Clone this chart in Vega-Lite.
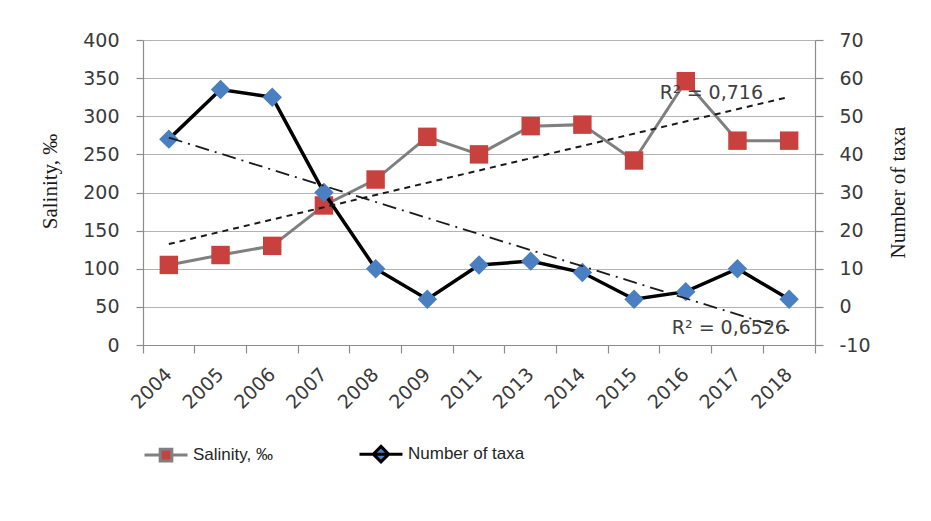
{
  "$schema": "https://vega.github.io/schema/vega-lite/v6.json",
  "width": 672,
  "height": 305,
  "autosize": {"type": "none"},
  "padding": {"left": 143, "top": 40, "right": 116, "bottom": 176},
  "background": "white",
  "config": {
    "view": {"stroke": null},
    "font": "DejaVu Sans",
    "axis": {
      "labelFont": "DejaVu Sans",
      "labelFontSize": 19,
      "labelColor": "#3a3a3a",
      "titleFont": "Liberation Serif",
      "titleFontSize": 21,
      "titleFontWeight": "normal",
      "titleColor": "#1a1a1a",
      "domainColor": "#8c8c8c",
      "domainWidth": 1.2,
      "tickColor": "#8c8c8c",
      "tickWidth": 1.2,
      "gridColor": "#b3b3b3",
      "gridWidth": 1.2
    },
    "legend": {
      "title": null,
      "orient": "bottom",
      "direction": "horizontal",
      "offset": 18,
      "labelFont": "Liberation Sans",
      "labelFontSize": 17,
      "labelColor": "#262626",
      "labelOffset": 4,
      "columnPadding": 80,
      "symbolSize": 1849,
      "symbolStrokeWidth": 3,
      "symbolOpacity": 1
    }
  },
  "datasets": {
    "obs": [
      {"year": "2004", "salinity": 105, "taxa": 44},
      {"year": "2005", "salinity": 118, "taxa": 57},
      {"year": "2006", "salinity": 130, "taxa": 55},
      {"year": "2007", "salinity": 183, "taxa": 30},
      {"year": "2008", "salinity": 217, "taxa": 10},
      {"year": "2009", "salinity": 273, "taxa": 2},
      {"year": "2011", "salinity": 250, "taxa": 11},
      {"year": "2013", "salinity": 287, "taxa": 12},
      {"year": "2014", "salinity": 289, "taxa": 9},
      {"year": "2015", "salinity": 242, "taxa": 2},
      {"year": "2016", "salinity": 346, "taxa": 4},
      {"year": "2017", "salinity": 268, "taxa": 10},
      {"year": "2018", "salinity": 268, "taxa": 2}
    ],
    "trend": [
      {"year": "2004", "salinity": 132.4, "taxa": 44.4},
      {"year": "2018", "salinity": 325.4, "taxa": -6.2}
    ],
    "r2": [
      {"year": "2016", "salinity": 330, "taxa": -5.5, "salinityLabel": "R² = 0,716", "taxaLabel": "R² = 0,6526"}
    ]
  },
  "layer": [
    {
      "data": {"name": "obs"},
      "mark": {"type": "line", "color": "#7f7f7f", "strokeWidth": 3},
      "encoding": {
        "x": {
          "field": "year", "type": "ordinal",
          "scale": {"type": "band", "paddingInner": 0, "paddingOuter": 0},
          "axis": {
            "orient": "bottom",
            "title": null, "labels": false, "grid": false,
            "bandPosition": 1, "tickExtra": true, "tickSize": 8,
            "domain": true
          }
        },
        "y": {
          "field": "salinity", "type": "quantitative",
          "scale": {"domain": [0, 400], "nice": false, "zero": false},
          "axis": {
            "title": "Salinity, ‰",
            "values": [0, 50, 100, 150, 200, 250, 300, 350, 400],
            "grid": true, "domain": true, "tickSize": 7, "labelPadding": 17,
            "titleAngle": 270, "titleX": -93, "titleY": 141, "titleBaseline": "middle", "titleAlign": "center"
          }
        }
      }
    },
    {
      "data": {"name": "obs"},
      "mark": {"type": "point", "shape": "square", "filled": true, "size": 340, "opacity": 1},
      "encoding": {
        "x": {"field": "year", "type": "ordinal", "axis": null},
        "y": {"field": "salinity", "type": "quantitative", "scale": {"domain": [0, 400], "nice": false, "zero": false}, "axis": null},
        "color": {
          "datum": "Salinity, ‰", "type": "nominal",
          "scale": {"domain": ["Salinity, ‰", "Number of taxa"], "range": ["#c8413e", "#4a7fc1"]}
        }
      }
    },
    {
      "data": {"name": "obs"},
      "mark": {"type": "line", "color": "#000000", "strokeWidth": 3.5},
      "encoding": {
        "x": {
          "field": "year", "type": "ordinal",
          "axis": {
            "orient": "bottom",
            "title": null, "ticks": false, "tickSize": 0, "domain": false, "grid": false,
            "labelAngle": -45, "labelAlign": "right", "labelBaseline": "middle",
            "labelPadding": 26
          }
        },
        "y": {
          "field": "taxa", "type": "quantitative",
          "scale": {"domain": [-10, 70], "nice": false, "zero": false},
          "axis": {
            "orient": "right",
            "title": "Number of taxa",
            "values": [-10, 0, 10, 20, 30, 40, 50, 60, 70],
            "labelExpr": "replace(datum.label, '−', '-')",
            "grid": false, "domain": true, "tickSize": 8, "labelPadding": 16,
            "titleAngle": 270, "titleX": 83, "titleY": 152, "titleBaseline": "middle", "titleAlign": "center"
          }
        }
      }
    },
    {
      "data": {"name": "obs"},
      "mark": {"type": "point", "shape": "diamond", "filled": true, "size": 380, "opacity": 1},
      "encoding": {
        "x": {"field": "year", "type": "ordinal", "axis": null},
        "y": {"field": "taxa", "type": "quantitative", "scale": {"domain": [-10, 70], "nice": false, "zero": false}, "axis": null},
        "color": {"datum": "Number of taxa", "type": "nominal"}
      }
    },
    {
      "data": {"name": "trend"},
      "mark": {"type": "line", "color": "#1a1a1a", "strokeWidth": 2, "strokeDash": [6, 5]},
      "encoding": {
        "x": {"field": "year", "type": "ordinal", "axis": null},
        "y": {"field": "salinity", "type": "quantitative", "scale": {"domain": [0, 400], "nice": false, "zero": false}, "axis": null}
      }
    },
    {
      "data": {"name": "trend"},
      "mark": {"type": "line", "color": "#1a1a1a", "strokeWidth": 1.8, "strokeDash": [14, 6, 2, 6]},
      "encoding": {
        "x": {"field": "year", "type": "ordinal", "axis": null},
        "y": {"field": "taxa", "type": "quantitative", "scale": {"domain": [-10, 70], "nice": false, "zero": false}, "axis": null}
      }
    },
    {
      "data": {"name": "r2"},
      "mark": {"type": "text", "align": "left", "baseline": "middle", "dx": -26, "font": "DejaVu Sans", "fontSize": 19, "color": "#404040"},
      "encoding": {
        "x": {"field": "year", "type": "ordinal", "axis": null},
        "y": {"field": "salinity", "type": "quantitative", "scale": {"domain": [0, 400], "nice": false, "zero": false}, "axis": null},
        "text": {"field": "salinityLabel"}
      }
    },
    {
      "data": {"name": "r2"},
      "mark": {"type": "text", "align": "left", "baseline": "middle", "dx": -14, "font": "DejaVu Sans", "fontSize": 19, "color": "#404040"},
      "encoding": {
        "x": {"field": "year", "type": "ordinal", "axis": null},
        "y": {"field": "taxa", "type": "quantitative", "scale": {"domain": [-10, 70], "nice": false, "zero": false}, "axis": null},
        "text": {"field": "taxaLabel"}
      }
    },
    {
      "description": "Key layer: transparent points whose fill, shape and stroke scales build the line-plus-marker legend entries.",
      "data": {"name": "trend"},
      "mark": {"type": "point", "filled": true, "opacity": 0},
      "encoding": {
        "x": {"field": "year", "type": "ordinal", "axis": null},
        "y": {"field": "salinity", "type": "quantitative", "scale": {"domain": [0, 400], "nice": false, "zero": false}, "axis": null},
        "color": {"datum": "Salinity, ‰", "type": "nominal"},
        "shape": {
          "datum": "Salinity, ‰", "type": "nominal",
          "scale": {
            "domain": ["Salinity, ‰", "Number of taxa"],
            "range": ["M-1,0H-0.27M0.27,0H1M-0.27,-0.27H0.27V0.27H-0.27Z", "M-1,0H1M0,-0.36L0.36,0L0,0.36L-0.36,0Z"]
          }
        },
        "stroke": {
          "datum": "Salinity, ‰", "type": "nominal",
          "scale": {"domain": ["Salinity, ‰", "Number of taxa"], "range": ["#808080", "#000000"]}
        }
      }
    }
  ],
  "resolve": {"scale": {"y": "independent"}, "axis": {"x": "independent", "y": "independent"}}
}
